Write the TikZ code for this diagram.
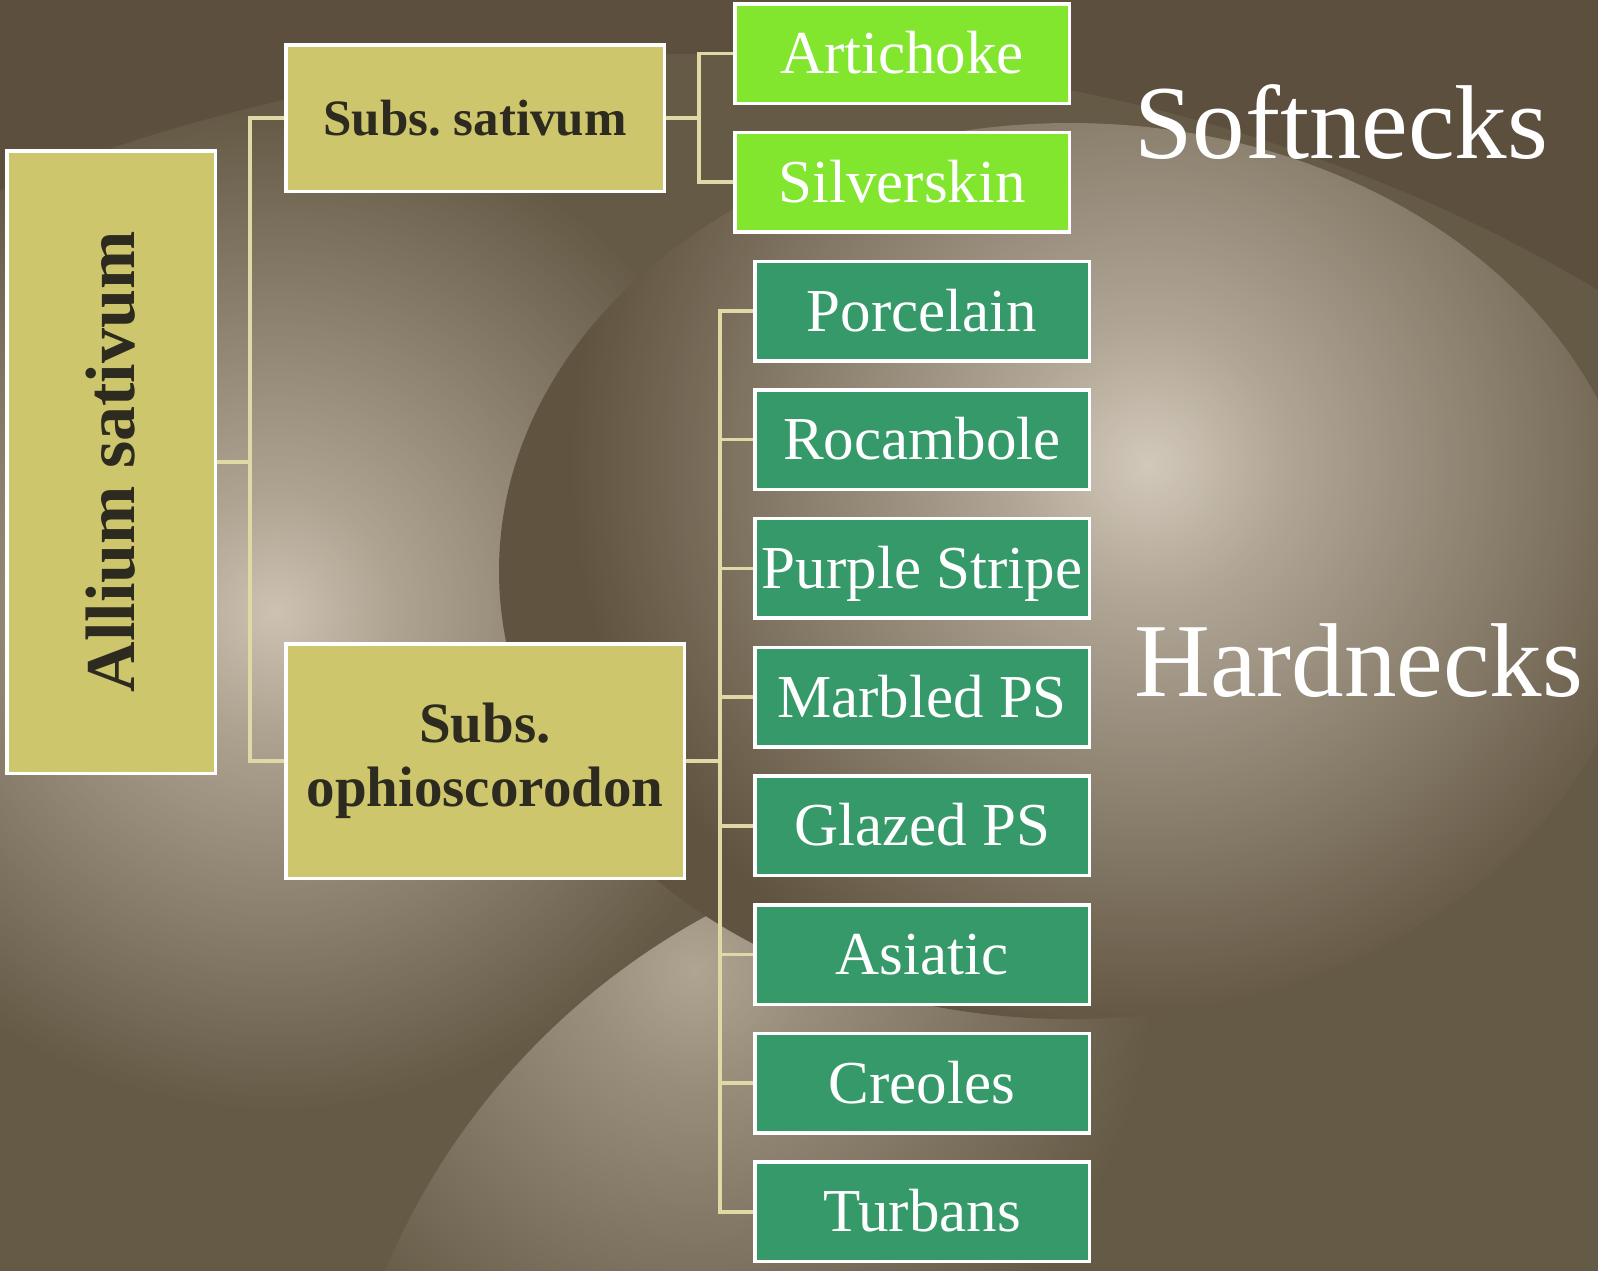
\documentclass[tikz,border=0pt]{standalone}
\usepackage{fontspec}
\setmainfont{Liberation Serif}
\usepackage{graphicx}
\usepackage{xcolor}
\usetikzlibrary{positioning,calc,fadings}
\definecolor{cBack}{HTML}{5C4F3D}
\definecolor{cRim}{HTML}{655A46}
\definecolor{cBowl}{HTML}{605440}
\definecolor{cGlowL}{HTML}{CEC3B2}
\definecolor{cGlowR}{HTML}{D3C9BA}
\definecolor{cGlowC}{HTML}{B0A593}
\definecolor{cTan}{HTML}{CEC66D}
\definecolor{cInk}{HTML}{2D2A1F}
\definecolor{cLime}{HTML}{82E52E}
\definecolor{cLeaf}{HTML}{36996A}
\definecolor{cLink}{HTML}{DFDAA5}
\pgfdeclareradialshading{softglowshade}{\pgfpointorigin}{%
  color(0bp)=(transparent!0); color(6bp)=(transparent!30);
  color(25bp)=(transparent!100); color(50bp)=(transparent!100)}
\pgfdeclarefading{softglow}{\pgfuseshading{softglowshade}}
\tikzset{
  base/.style={draw=white,line width=3.5pt,align=center,inner sep=2pt},
  tnode/.style={base,fill=cTan,text=cInk},
  gbox/.style={base,text=white,minimum width=334.5pt,minimum height=99.5pt,
    font=\fontsize{61}{64}\selectfont,text height=40pt,text depth=0pt},
  snode/.style={gbox,fill=cLime}, hnode/.style={gbox,fill=cLeaf},
  link/.style={draw=cLink,line width=3.5pt},
  big/.style={text=white,inner sep=0pt,anchor=base west,font=\fontsize{105}{108}\selectfont}}

\begin{document}
\begin{tikzpicture}[x=1pt,y=-1pt,node distance=25.7pt]
\useasboundingbox (0,0) rectangle (1598,1270);
\clip (0,0) rectangle (1598,1270);
% backdrop
\fill[cBack] (0,0) rectangle (1598,1270);
\fill[cRim] (700,1150) ellipse [x radius=1448pt, y radius=1096pt];
\fill[cGlowL, path fading=softglow] (275,612) circle (500pt);
\begin{scope}
  \clip (1050,1550) circle (721pt);
  \fill[cGlowC, path fading=softglow] (695,970) circle (460pt);
\end{scope}
\begin{scope}
  \clip (1070,571) ellipse [x radius=571pt, y radius=448pt];
  \fill[cBowl] (1070,571) ellipse [x radius=571pt, y radius=448pt];
  \fill[cGlowR, path fading=softglow] (1148,464) circle (580pt);
\end{scope}
% taxonomy
\node[tnode, minimum width=208.5pt, minimum height=622.5pt,
  font=\bfseries\fontsize{70}{74}\selectfont] (allium) at (111,462)
  {\rotatebox{90}{Allium sativum}};
\node[tnode, minimum width=378.5pt, minimum height=146.5pt,
  font=\bfseries\fontsize{51}{56}\selectfont, text height=34pt, text depth=0pt]
  (sativ) at (475,118) {Subs.\ sativum};
\node[tnode, minimum width=398.5pt, minimum height=234.5pt,
  font=\bfseries\fontsize{57}{64}\selectfont] (ophio) at (485,761)
  {Subs.\\ ophioscorodon};
\node[snode] (arti) at (902,53.5) {Artichoke};
\node[snode, below=of arti] (silv) {Silverskin};
\node[hnode] (porc) at (922,311) {Porcelain};
\node[hnode, below=of porc] (roca) {Rocambole};
\node[hnode, below=of roca] (purp) {Purple Stripe};
\node[hnode, below=of purp] (marb) {Marbled PS};
\node[hnode, below=of marb] (glaz) {Glazed PS};
\node[hnode, below=of glaz] (asia) {Asiatic};
\node[hnode, below=of asia] (creo) {Creoles};
\node[hnode, below=of creo] (turb) {Turbans};
\node[big] (soft) at (1134,158) {Softnecks};
\node[big] (hard) at (1134,696) {Hardnecks};
% links
\draw[link] (allium.east) -- ++(33,0) coordinate (jA);
\draw[link] (jA) |- (sativ.west); \draw[link] (jA) |- (ophio.west);
\draw[link] (sativ.east) -- ++(33,0) coordinate (jB);
\foreach \n in {arti,silv} \draw[link] (jB) |- (\n.west);
\draw[link] (ophio.east) -- ++(34,0) coordinate (jC);
\foreach \n in {porc,roca,purp,marb,glaz,asia,creo,turb} \draw[link] (jC) |- (\n.west);
\end{tikzpicture}
\end{document}
